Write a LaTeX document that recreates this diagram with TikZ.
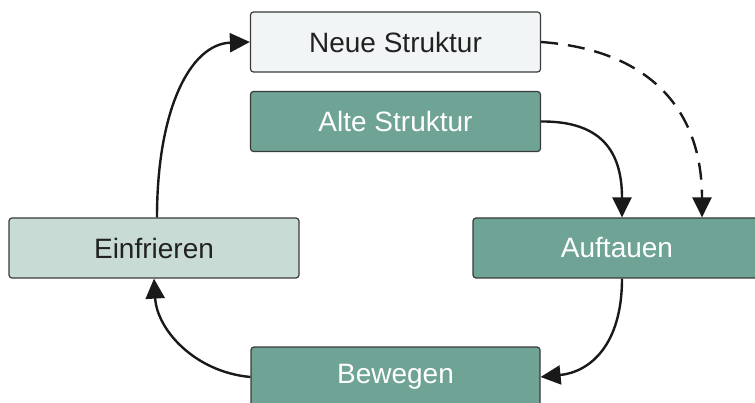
\documentclass[tikz,border=0pt]{standalone}
\usepackage{fontspec}
\setmainfont{Liberation Sans}
\usetikzlibrary{arrows.meta}
\definecolor{darkgreen}{HTML}{6FA396}
\definecolor{lightgreen}{HTML}{C8DCD5}
\definecolor{paleblue}{HTML}{F1F5F5}
\definecolor{edge}{HTML}{3A3A3A}
\definecolor{txt}{HTML}{222222}
\begin{document}
\begin{tikzpicture}[x=1pt,y=-1pt,
  box/.style={draw=edge,line width=1.2pt,rounded corners=3pt,minimum width=290pt,minimum height=60pt,inner sep=0pt,font=\fontsize{28}{30}\selectfont},
  darkbox/.style={box,fill=darkgreen,text=white},
  lightbox/.style={box,fill=lightgreen,text=txt},
  palebox/.style={box,fill=paleblue,text=txt},
  conn/.style={line width=2.4pt,draw=black!90,-{Triangle[length=20pt,width=19pt]}}]
\useasboundingbox (0,0) rectangle (755,403);
\clip (0,0) rectangle (755,403);
\node[palebox] (neu) at (395.5,42) {Neue Struktur};
\node[darkbox] (alt) at (395.5,121.5) {Alte Struktur};
\node[lightbox] (ein) at (154,248) {Einfrieren};
\node[darkbox,minimum width=288pt] (auf) at (617,248) {Auftauen};
\node[darkbox,minimum width=289pt] (bew) at (395.5,377) {Bewegen};
\draw[conn] ([xshift=3pt]ein.north) .. controls (157,110) and (190,44) .. (neu.west);
\draw[conn] (alt.east) .. controls (600,121) and (622,150) .. ([xshift=5pt]auf.north);
\draw[conn,dashed,dash pattern=on 17pt off 10pt] (neu.east) .. controls (650,50) and (702,110) .. ([xshift=85pt]auf.north);
\draw[conn] ([xshift=5pt]auf.south) .. controls (622,345) and (590,372) .. (bew.east);
\draw[conn] (bew.west) .. controls (195,372) and (157,330) .. (ein.south);
\end{tikzpicture}
\end{document}
